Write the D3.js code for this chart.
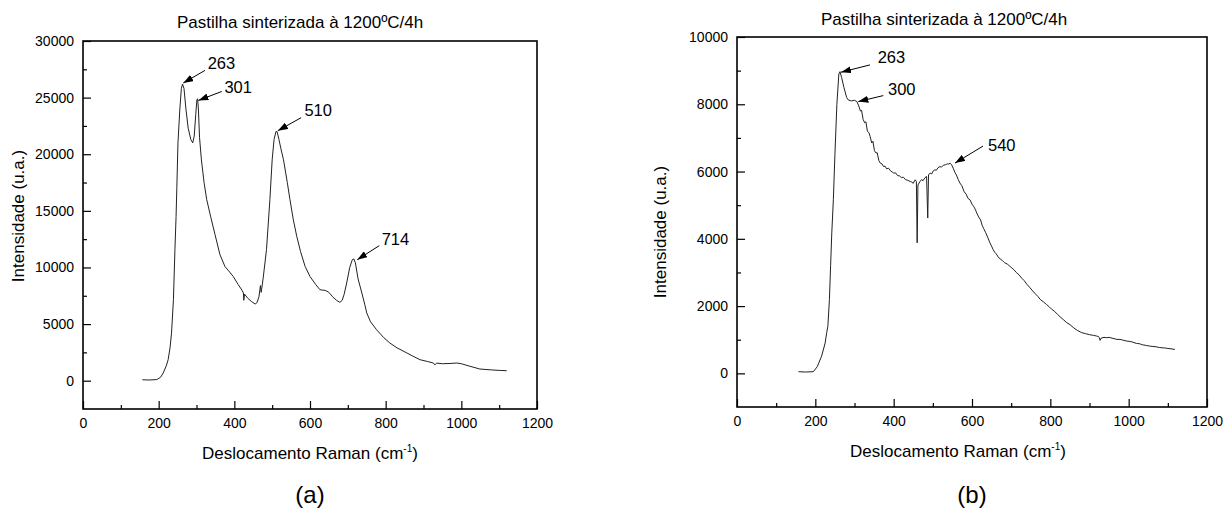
<!DOCTYPE html>
<html>
<head>
<meta charset="utf-8">
<script src="https://cdn.jsdelivr.net/npm/d3@7"></script>
<style>
  body { margin: 0; background: #fff; }
  svg text { font-family: "Liberation Sans", Arial, sans-serif; fill: #000; }
</style>
</head>
<body>
<div id="wrapper"></div>
<script>
const titleText = 'Pastilha sinterizada à 1200ºC/4h'
const xTicks = [0, 200, 400, 600, 800, 1000, 1200]
const xMinorTicks = [100, 300, 500, 700, 900, 1100]

// panel (a)
const shiftA = [157, 175, 195, 205, 212, 220, 225, 230, 234, 239, 243, 246, 248, 251, 256, 260, 263, 267, 272, 278, 285, 290, 294, 298, 301, 303, 305, 308, 313, 320, 327, 338, 349, 362, 375, 385, 397, 410, 420, 424, 425, 427, 435, 445, 455, 460, 465, 469, 471, 476, 485, 494, 500, 505, 510, 513, 518, 523, 530, 540, 547, 556, 565, 575, 587, 600, 615, 626, 633, 640, 650, 660, 670, 679, 685, 690, 697, 705, 712, 716, 720, 727, 737, 745, 750, 760, 776, 795, 811, 830, 856, 870, 891, 910, 926, 930, 935, 950, 970, 988, 1000, 1020, 1049, 1080, 1100, 1120]
const intensA = [80, 60, 100, 300, 680, 1300, 1850, 2900, 4200, 7150, 11570, 14500, 17000, 21000, 24000, 25800, 26200, 25800, 24000, 22300, 21300, 21000, 21600, 23500, 24800, 24900, 24000, 21500, 19500, 17500, 16000, 14400, 12900, 11130, 10100, 9700, 9210, 8500, 8000, 7750, 7100, 7650, 7300, 7000, 6770, 6900, 7400, 8400, 7800, 9000, 11570, 16000, 19500, 21300, 22000, 22000, 21300, 20500, 19500, 17500, 16000, 14200, 12750, 11400, 10100, 9200, 8500, 8040, 8000, 7980, 7800, 7400, 7100, 6920, 7100, 7600, 8630, 10000, 10700, 10750, 10400, 9000, 7750, 6700, 5980, 5200, 4500, 3800, 3330, 2900, 2450, 2200, 1850, 1700, 1560, 1400, 1550, 1500, 1520, 1560, 1500, 1300, 1030, 950, 910, 880]
const yTicksA = [0, 5000, 10000, 15000, 20000, 25000, 30000]
const yMinorTicksA = [2500, 7500, 12500, 17500, 22500, 27500]
const peakLabelsA = ['263', '301', '510', '714']
const peakShiftA = [265, 305, 515, 725]
const peakIntensA = [26290, 24750, 22080, 10690]

// panel (b)
const shiftB = [157, 175, 195, 205, 216, 225, 229, 232, 236, 239, 242, 246, 250, 255, 260, 263, 267, 273, 280, 284, 292, 300, 306, 311, 315, 318, 322, 326, 329, 333, 337, 340, 344, 347, 351, 355, 358, 362, 366, 370, 374, 378, 382, 387, 392, 396, 400, 405, 410, 415, 420, 425, 430, 436, 442, 446, 450, 453, 455, 458, 460, 462, 467, 471, 475, 480, 484, 487, 489, 493, 497, 501, 505, 509, 513, 518, 522, 527, 532, 537, 541, 544, 548, 552, 556, 560, 565, 569, 574, 580, 585, 590, 595, 600, 605, 609, 612, 617, 622, 626, 630, 635, 640, 645, 650, 654, 658, 662, 667, 672, 677, 683, 690, 695, 700, 707, 714, 720, 727, 733, 740, 747, 755, 762, 768, 774, 782, 790, 797, 803, 810, 818, 825, 833, 842, 850, 860, 870, 880, 890, 900, 910, 918, 923, 925, 927, 930, 937, 944, 950, 960, 970, 978, 985, 995, 1003, 1010, 1020, 1028, 1035, 1045, 1054, 1062, 1070, 1078, 1085, 1092, 1100, 1108, 1118]
const intensB = [50, 40, 50, 200, 513, 900, 1210, 1400, 2200, 3200, 4175, 5160, 6500, 8000, 8900, 8970, 8800, 8500, 8200, 8130, 8100, 8120, 8080, 7950, 7800, 7820, 7550, 7450, 7480, 7200, 7150, 7040, 6850, 6900, 6620, 6550, 6560, 6330, 6250, 6230, 6150, 6160, 6080, 6100, 6020, 5990, 5955, 5960, 5880, 5870, 5820, 5830, 5760, 5740, 5705, 5690, 5650, 5720, 5755, 5700, 3880, 5600, 5700, 5760, 5730, 5820, 5855, 4620, 5900, 5955, 5930, 6020, 6050, 6040, 6110, 6150, 6130, 6190, 6200, 6230, 6220, 6250, 6200, 6100, 5980, 5900, 5760, 5660, 5580, 5400, 5330, 5200, 5160, 5030, 4950, 4860, 4770, 4650, 4560, 4400, 4300, 4180, 4050, 3900, 3780, 3680, 3600, 3550, 3460, 3400, 3360, 3290, 3250, 3200, 3150, 3080, 2990, 2930, 2830, 2760, 2650, 2560, 2450, 2360, 2290, 2200, 2130, 2050, 1980, 1910, 1850, 1760, 1680, 1600, 1505, 1450, 1350, 1270, 1210, 1180, 1150, 1130, 1110, 1095, 1060, 980, 1050, 1070, 1060, 1070, 1040, 1010, 1010, 990, 960, 950, 930, 890, 880, 850, 830, 810, 800, 790, 770, 760, 755, 740, 730, 712]
const yTicksB = [0, 2000, 4000, 6000, 8000, 10000]
const yMinorTicksB = [1000, 3000, 5000, 7000, 9000]
const peakLabelsB = ['263', '300', '540']
const peakShiftB = [265.5, 309.7, 556.6]
const peakIntensB = [8953, 8080, 6252]

const svg = d3.select('#wrapper')
    .append('svg')
    .attr('width', 1225)
    .attr('height', 511)
    .style('background', '#fff')

svg.append('defs')
    .append('marker')
    .attr('id', 'arrow')
    .attr('markerUnits', 'userSpaceOnUse')
    .attr('markerWidth', 10)
    .attr('markerHeight', 7)
    .attr('refX', 10)
    .attr('refY', 3.5)
    .attr('orient', 'auto')
    .append('path')
    .attr('d', 'M0,0 L10,3.5 L0,7 Z')
    .attr('fill', '#000')

const drawPanel = (p) => {
    const g = svg.append('g')

    const xScale = d3.scaleLinear()
        .domain([0, 1200])
        .range([p.left, p.right])
    const yScale = d3.scaleLinear()
        .domain(p.yDomain)
        .range([p.bottom, p.top])

    // minor ticks
    g.append('g')
        .attr('transform', `translate(0,${p.bottom})`)
        .call(d3.axisBottom(xScale).tickValues(xMinorTicks).tickSize(-4).tickFormat(''))
    g.append('g')
        .attr('transform', `translate(${p.left},0)`)
        .call(d3.axisLeft(yScale).tickValues(p.yMinor).tickSize(-4).tickFormat(''))

    // major ticks + labels
    g.append('g')
        .attr('transform', `translate(0,${p.bottom})`)
        .call(d3.axisBottom(xScale).tickValues(xTicks).tickSize(-8).tickPadding(9).tickFormat(d3.format('d')))
    g.append('g')
        .attr('transform', `translate(${p.left},0)`)
        .call(d3.axisLeft(yScale).tickValues(p.yTicks).tickSize(-8).tickPadding(9).tickFormat(d3.format('d')))

    g.selectAll('.domain').remove()
    g.selectAll('.tick line').attr('stroke', '#000').attr('stroke-width', 1.2)
    g.selectAll('.tick text')
        .style('font-size', '14px')
        .style('font-family', '"Liberation Sans", Arial, sans-serif')
        .attr('fill', '#000')

    // frame
    g.append('rect')
        .attr('x', p.left)
        .attr('y', p.top)
        .attr('width', p.right - p.left)
        .attr('height', p.bottom - p.top)
        .attr('fill', 'none')
        .attr('stroke', '#000')
        .attr('stroke-width', 1.6)

    // spectrum
    const lineGen = d3.line()
        .x(d => xScale(d[0]))
        .y(d => yScale(d[1]))
    g.append('path')
        .datum(d3.zip(p.shift, p.intens))
        .attr('d', lineGen)
        .attr('fill', 'none')
        .attr('stroke', '#222')
        .attr('stroke-width', 1)

    // peak annotations
    p.labels.forEach((lab, i) => {
        const tx = xScale(p.peakX[i])
        const ty = yScale(p.peakY[i])
        const lo = p.lineOff[i]
        const to = p.textOff[i]
        g.append('line')
            .attr('x1', tx + lo[0])
            .attr('y1', ty + lo[1])
            .attr('x2', tx)
            .attr('y2', ty)
            .attr('stroke', '#000')
            .attr('stroke-width', 1)
            .attr('marker-end', 'url(#arrow)')
        g.append('text')
            .attr('x', tx + to[0])
            .attr('y', ty + to[1])
            .style('font-size', '16.5px')
            .text(lab)
    })

    // title
    g.append('text')
        .attr('x', p.titleX)
        .attr('y', p.titleY)
        .style('font-size', '17px')
        .text(titleText)

    // y label
    g.append('text')
        .attr('transform', `translate(${p.yLabelX},${p.yLabelY}) rotate(-90)`)
        .style('text-anchor', 'middle')
        .style('font-size', '17px')
        .text('Intensidade (u.a.)')

    // x label
    const xl = g.append('text')
        .attr('x', p.xLabelX)
        .attr('y', p.xLabelY)
        .style('text-anchor', 'middle')
        .style('font-size', '17px')
    xl.append('tspan').text('Deslocamento Raman (cm')
    xl.append('tspan').attr('dy', -7).style('font-size', '10px').text('-1')
    xl.append('tspan').attr('dy', 7).text(')')

    // panel letter
    g.append('text')
        .attr('x', p.letterX)
        .attr('y', 503)
        .style('text-anchor', 'middle')
        .style('font-size', '24px')
        .text(p.letter)
}

drawPanel({
    left: 83, right: 537, top: 41, bottom: 409,
    yDomain: [-2500, 30000],
    yTicks: yTicksA, yMinor: yMinorTicksA,
    shift: shiftA, intens: intensA,
    labels: peakLabelsA, peakX: peakShiftA, peakY: peakIntensA,
    lineOff: [[21.7, -12.6], [23.4, -9], [23.3, -13], [22, -14]],
    textOff: [[24.4, -14], [26, -7.4], [26.6, -14.3], [24.4, -15]],
    titleX: 177, titleY: 28,
    yLabelX: 23.5, yLabelY: 216,
    xLabelX: 310, xLabelY: 459,
    letter: '(a)', letterX: 310
})

drawPanel({
    left: 737, right: 1207, top: 37, bottom: 407,
    yDomain: [-1000, 10000],
    yTicks: yTicksB, yMinor: yMinorTicksB,
    shift: shiftB, intens: intensB,
    labels: peakLabelsB, peakX: peakShiftB, peakY: peakIntensB,
    lineOff: [[29, -7.3], [25, -6], [28, -17]],
    textOff: [[36.7, -9], [29.7, -6.7], [33, -12]],
    titleX: 821, titleY: 25,
    yLabelX: 666, yLabelY: 232,
    xLabelX: 958, xLabelY: 457,
    letter: '(b)', letterX: 972
})
</script>
</body>
</html>
